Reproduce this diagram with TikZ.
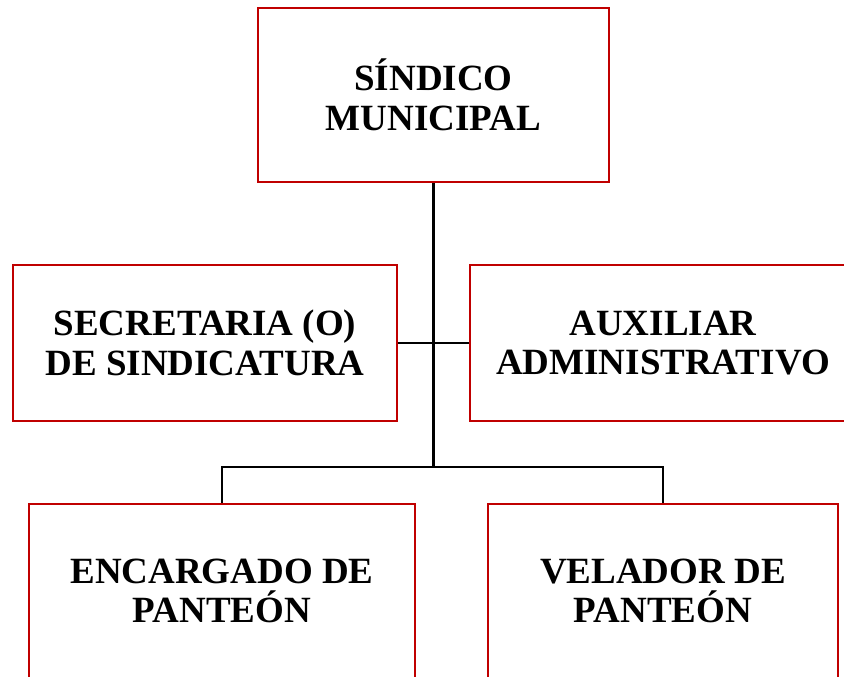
\documentclass[tikz,border=0pt]{standalone}
\usepackage{fontspec}
\setmainfont{Liberation Serif}
\definecolor{boxred}{HTML}{C00000}
\begin{document}
\begin{tikzpicture}[x=1pt,y=-1pt,
  orgbox/.style={draw=boxred,line width=2.5pt,rectangle,inner sep=0pt,align=center,
    font=\fontsize{37}{39.5}\selectfont\bfseries},
  link/.style={draw=black,line width=2.2pt}]
\useasboundingbox (0,0) rectangle (844,677);
\clip (0,0) rectangle (844,677);
\node[orgbox,minimum width=351pt,minimum height=174pt] (top) at (433.5,95) {SÍNDICO\\MUNICIPAL};
\node[orgbox,minimum width=384pt,minimum height=156pt] (sec) at (205,343) {SECRETARIA (O)\\DE SINDICATURA};
\node[orgbox,minimum width=386pt,minimum height=156pt] (aux) at (663,343) {AUXILIAR\\ADMINISTRATIVO};
\node[orgbox,minimum width=386pt,minimum height=174pt] (enc) at (222,591) {ENCARGADO DE\\PANTEÓN};
\node[orgbox,minimum width=350pt,minimum height=174pt] (vel) at (663,591) {VELADOR DE\\PANTEÓN};
\coordinate (j) at (433.5,467);
\draw[link] (top.south) -- (j);
\draw[link] (sec.east) -- (aux.west);
\draw[link] (enc.north) |- (j) -| (vel.north);
\end{tikzpicture}
\end{document}
